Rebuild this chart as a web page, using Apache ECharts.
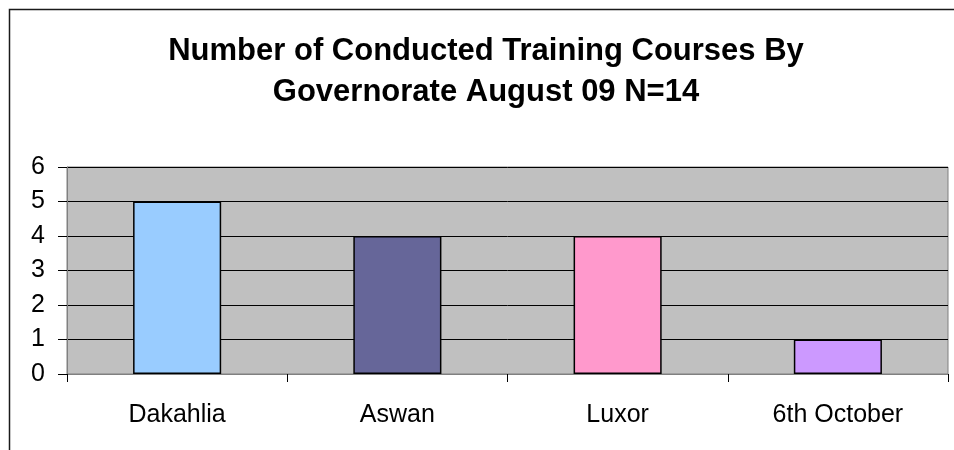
<!DOCTYPE html>
<html>
<head>
<meta charset="utf-8">
<script src="https://cdn.jsdelivr.net/npm/echarts@6/dist/echarts.min.js"></script>
<style>
  html, body { margin: 0; padding: 0; background: #fff; }
  #chart { width: 954px; height: 450px; }
</style>
</head>
<body>
<div id="chart"></div>
<script>
// data
const governorates = ['Dakahlia', 'Aswan', 'Luxor', '6th October'];
const courses = [5, 4, 4, 1];
const barColors = ['#99ccff', '#666699', '#ff99cc', '#cc99ff'];

const chart = echarts.init(document.getElementById('chart'));

chart.setOption({
    animation: false,
    textStyle: { fontFamily: 'Liberation Sans, Arial, sans-serif' },
    // outer frame of the chart (runs off the right/bottom edge)
    graphic: [{
        type: 'rect',
        shape: { x: 9.5, y: 9.5, width: 1100, height: 1100 },
        style: { fill: 'none', stroke: '#1a1a1a', lineWidth: 1.5 },
        silent: true
    }],
    title: {
        text: 'Number of Conducted Training Courses By\nGovernorate August 09 N=14',
        left: 481,
        top: 26,
        textAlign: 'center',
        textStyle: {
            fontFamily: 'Liberation Sans, Arial, sans-serif',
            fontSize: 31,
            fontWeight: 'bold',
            color: '#000',
            lineHeight: 41
        }
    },
    grid: {
        left: 67,
        top: 167,
        right: 6,
        bottom: 76,
        show: true,
        backgroundColor: '#c0c0c0',
        borderColor: '#808080',
        borderWidth: 1
    },
    xAxis: {
        type: 'category',
        data: governorates,
        axisLine: { show: true, lineStyle: { color: '#808080', width: 1 } },
        axisTick: { show: true, alignWithLabel: false, length: 8, lineStyle: { color: '#000' } },
        axisLabel: { color: '#000', fontSize: 25, margin: 29 },
        splitLine: { show: false }
    },
    yAxis: {
        type: 'value',
        min: 0,
        max: 6,
        interval: 1,
        axisLine: { show: true, lineStyle: { color: '#808080', width: 1 } },
        axisTick: { show: true, length: 9, lineStyle: { color: '#000' } },
        axisLabel: { color: '#000', fontSize: 25, margin: 22 },
        splitLine: { show: true, lineStyle: { color: '#000', width: 1 } }
    },
    series: [{
        type: 'bar',
        barWidth: '40%',
        data: courses.map((v, i) => ({
            value: v,
            itemStyle: { color: barColors[i] }
        })),
        itemStyle: { borderColor: '#000', borderWidth: 1.5 }
    }]
});
</script>
</body>
</html>
